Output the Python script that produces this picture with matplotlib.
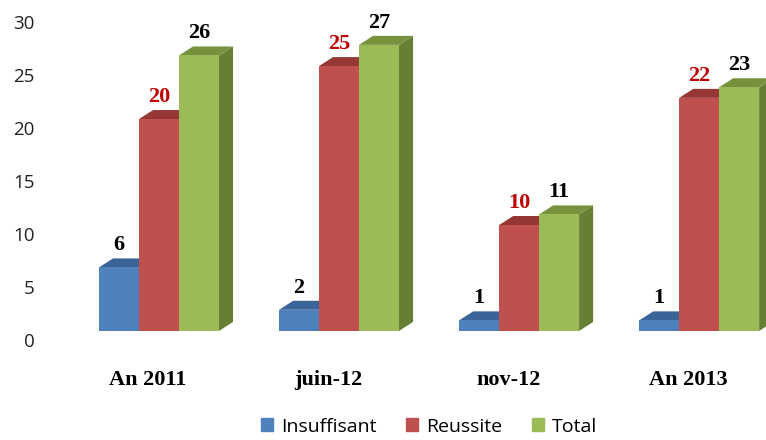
import matplotlib
matplotlib.use("Agg")
import matplotlib.pyplot as plt
from matplotlib.patches import Polygon, Patch

# data
categories = ["An 2011", "juin-12", "nov-12", "An 2013"]
insuffisant = [6, 2, 1, 1]
reussite = [20, 25, 10, 22]
total = [26, 27, 11, 23]
series_names = ["Insuffisant", "Reussite", "Total"]

# styles: front, top, side colours and label colour
front = ["#4F81BD", "#C0504D", "#9BBB59"]
top = ["#3A6498", "#953735", "#76923C"]
side = ["#385D8A", "#8C3836", "#677F35"]
lab_col = ["black", "#C00000", "black"]

fig = plt.figure(figsize=(7.66, 4.40), dpi=100)
ax = fig.add_axes([0.0522, 0.216, 0.948, 0.761])
ax.set_xlim(-0.6, 3.433)
ax.set_ylim(-0.47, 31.13)

w = 0.222          # bar width
offs = [-0.161, 0.061, 0.283]
base = 0.85        # front face base
dx, dy = 0.078, 0.85

serif = "Liberation Serif"
for i in range(len(categories)):
    for s, vals in enumerate([insuffisant, reussite, total]):
        v = vals[i]
        x0 = i + offs[s] - w / 2
        x1 = x0 + w
        y0, y1 = base, base + v
        # side face
        ax.add_patch(Polygon([(x1, y0), (x1 + dx, y0 + dy), (x1 + dx, y1 + dy), (x1, y1)],
                             closed=True, fc=side[s], ec="none"))
        # top face
        ax.add_patch(Polygon([(x0, y1), (x0 + dx, y1 + dy), (x1 + dx, y1 + dy), (x1, y1)],
                             closed=True, fc=top[s], ec="none"))
        ax.bar(x0, v, width=w, bottom=base, align="edge", color=front[s], linewidth=0)
        ax.text(x0 + w / 2, y1 + dy + 0.3, str(v), ha="center", va="bottom",
                fontsize=16, fontweight="bold", family=serif, color=lab_col[s])

ax.set_yticks(range(0, 31, 5))
ax.set_xticks(range(len(categories)))
ax.set_xticklabels(categories, fontsize=16, fontweight="bold", family=serif)
ax.tick_params(axis="x", length=0, pad=18)
ax.tick_params(axis="y", length=0, pad=4, labelsize=13.5, labelcolor="#222222")
for t in ax.get_yticklabels():
    t.set_family("Open Sans")
for sp in ax.spines.values():
    sp.set_visible(False)

handles = [Patch(color=c) for c in front]
fig.legend(handles, series_names, loc="lower center", ncol=3, frameon=False,
           prop={"family": "Open Sans", "size": 14}, bbox_to_anchor=(0.56, -0.03),
           handlelength=0.65, handleheight=0.65, handletextpad=0.4, columnspacing=1.5)

fig.savefig("out.png", dpi=100, facecolor="white")
